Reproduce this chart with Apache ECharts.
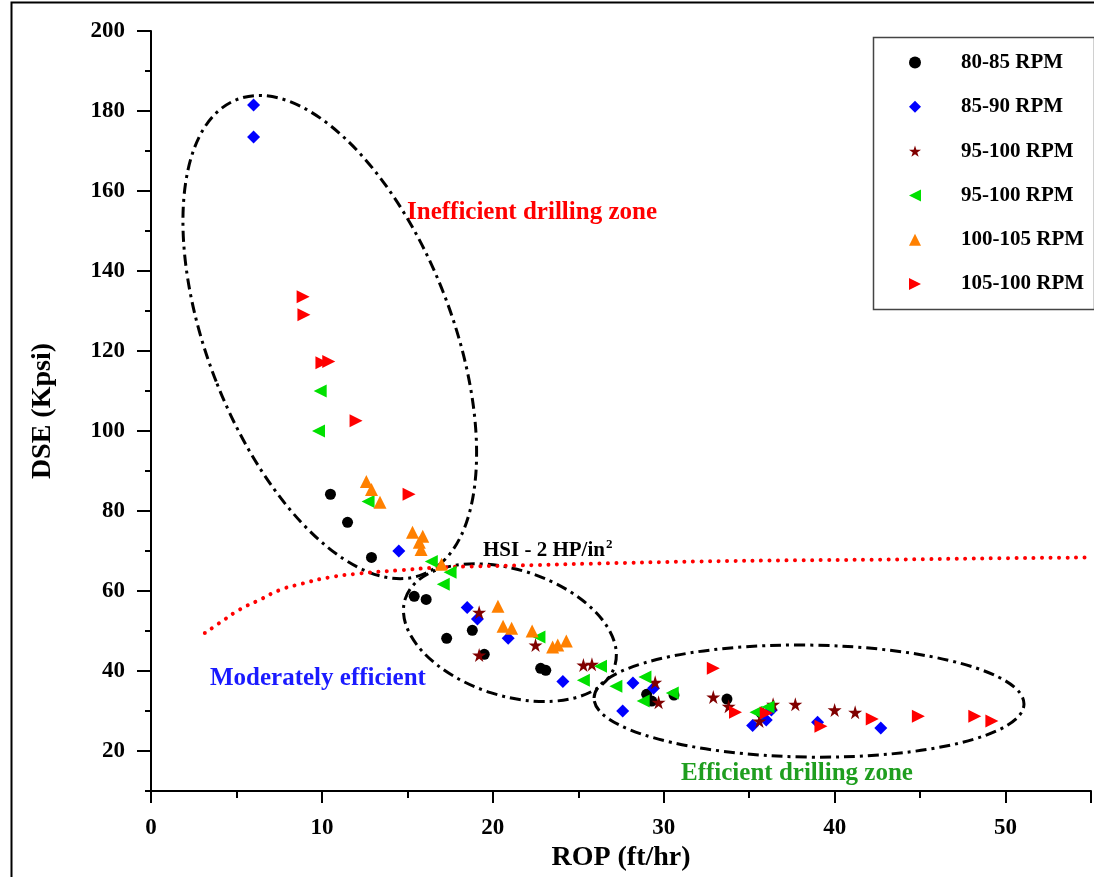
<!DOCTYPE html>
<html>
<head>
<meta charset="utf-8">
<title>DSE vs ROP</title>
<script src="https://cdn.jsdelivr.net/npm/echarts@6/dist/echarts.min.js"></script>
<style>
  html, body { margin: 0; padding: 0; background: #fff; }
  #chart { width: 1094px; height: 877px; }
</style>
</head>
<body>
<div id="chart"></div>
<script>
// ROP (ft/hr), DSE (Kpsi) pairs for each rotary speed band
const rpm80_85 = [
  [10.5, 84.2], [11.5, 77.2], [12.9, 68.4], [15.4, 58.7], [16.1, 57.9],
  [17.3, 48.2], [18.8, 50.2], [19.5, 44.2], [22.8, 40.7], [23.1, 40.2],
  [29.0, 34.2], [29.3, 32.5], [30.6, 34.0], [33.7, 33.0], [35.7, 29.5]
];
const rpm85_90 = [
  [6.0, 181.5], [6.0, 173.5], [14.5, 70.0], [18.5, 55.9], [19.1, 53.0],
  [20.9, 48.2], [24.1, 37.4], [27.6, 30.0], [28.2, 37.0], [29.4, 35.7],
  [35.2, 26.4], [36.0, 27.8], [36.3, 30.3], [39.0, 27.2], [42.7, 25.8]
];
const rpm95_100a = [
  [19.2, 54.7], [19.2, 44.0], [22.5, 46.5], [25.3, 41.5], [25.8, 41.7],
  [29.5, 37.2], [29.7, 32.2], [32.9, 33.5], [33.8, 31.2], [35.6, 27.5],
  [36.4, 31.7], [37.7, 31.7], [40.0, 30.3], [41.2, 29.7]
];
const rpm95_100b = [
  [9.9, 110.0], [9.8, 100.0], [12.7, 82.4], [16.4, 67.4], [17.5, 64.7],
  [17.1, 61.7], [22.7, 48.5], [26.3, 41.2], [25.3, 37.7], [27.2, 36.2],
  [28.9, 38.5], [28.8, 32.5], [30.5, 34.5], [35.4, 29.7], [36.1, 31.0]
];
const rpm100_105 = [
  [12.6, 87.4], [12.9, 85.4], [13.4, 82.2], [15.3, 74.7], [15.9, 73.7],
  [15.7, 72.2], [15.8, 70.4], [17.0, 66.7], [20.3, 56.2], [20.6, 51.2],
  [21.1, 50.7], [22.3, 50.0], [23.5, 46.0], [23.8, 46.5], [24.3, 47.5]
];
const rpm105_100 = [
  [8.9, 133.6], [8.95, 129.1], [10.0, 117.1], [10.4, 117.4], [12.0, 102.6],
  [15.1, 84.2], [32.9, 40.7], [34.2, 29.7], [36.0, 29.5], [39.2, 26.2],
  [42.2, 28.0], [44.9, 28.7], [48.2, 28.7], [49.2, 27.5]
];
// HSI = 2 HP/in² boundary
const hsiROP = [3.15, 4.0, 5.2, 6.4, 7.5, 8.7, 10.4, 12.2, 14.5, 16.9, 19.2, 21.5, 26.2, 32.0, 37.8, 43.7, 49.5, 55.0];
const hsiDSE = [49.5, 52.0, 55.4, 57.9, 60.2, 61.7, 63.4, 64.4, 65.2, 65.9, 66.2, 66.4, 66.9, 67.4, 67.7, 67.9, 68.2, 68.4];

const seriesNames = ['80-85 RPM', '85-90 RPM', '95-100 RPM', '95-100 RPM ', '100-105 RPM', '105-100 RPM'];
const xTicks = [0, 10, 20, 30, 40, 50];
const yTicks = [20, 40, 60, 80, 100, 120, 140, 160, 180, 200];

// drilling-zone outlines: centre in axis units, semi-axes in px, tilt in degrees
const zones = [
  { center: [10.46, 123.5], rx: 122, ry: 255, tilt: 21.4 },
  { center: [21.0, 49.6], rx: 110, ry: 63, tilt: -17.9 },
  { center: [38.5, 32.5], rx: 215, ry: 56, tilt: -0.8 }
];

const SERIF = '"Liberation Serif", "Times New Roman", serif';
const STAR = 'path://M50,0 L61,35 L98,35 L68,57 L79,91 L50,70 L21,91 L32,57 L2,35 L39,35 Z';
const TRI_UP = 'path://M50,0 L100,100 L0,100 Z';
const TRI_LEFT = 'path://M0,50 L100,0 L100,100 Z';
const TRI_RIGHT = 'path://M100,50 L0,0 L0,100 Z';

const chart = echarts.init(document.getElementById('chart'), null, { renderer: 'canvas' });

const scatter = (name, data, symbol, size, color) => ({
  name, type: 'scatter', data, symbol, symbolSize: size,
  itemStyle: { color, opacity: 1 },
  z: 5
});

chart.setOption({
  animation: false,
  backgroundColor: '#fff',
  grid: { left: 151, right: 0, top: 31, bottom: 84, containLabel: false },
  xAxis: [
    {
      type: 'value', min: 0, max: 55, interval: 5,
      name: 'ROP (ft/hr)', nameLocation: 'middle', nameGap: 47,
      nameTextStyle: { fontFamily: SERIF, fontWeight: 'bold', fontSize: 28, color: '#000' },
      axisLine: { lineStyle: { color: '#000', width: 2 } },
      axisTick: { length: 7, lineStyle: { color: '#000', width: 2 } },
      axisLabel: {
        margin: 25, fontFamily: SERIF, fontWeight: 'bold', fontSize: 23, color: '#000',
        formatter: v => (xTicks.indexOf(v) >= 0 ? String(v) : '')
      },
      splitLine: { show: false }
    },
    {
      type: 'value', min: 0, max: 55, interval: 10, position: 'bottom',
      axisLine: { show: false },
      axisTick: { length: 12, lineStyle: { color: '#000', width: 2 } },
      axisLabel: { show: false },
      splitLine: { show: false }
    }
  ],
  yAxis: [
    {
      type: 'value', min: 10, max: 200, interval: 10,
      name: 'DSE (Kpsi)', nameLocation: 'middle', nameGap: 94, nameRotate: 90,
      nameTextStyle: { fontFamily: SERIF, fontWeight: 'bold', fontSize: 28, color: '#000' },
      axisLine: { show: true, lineStyle: { color: '#000', width: 2 } },
      axisTick: { show: true, length: 6, lineStyle: { color: '#000', width: 2 } },
      axisLabel: {
        margin: 26, fontFamily: SERIF, fontWeight: 'bold', fontSize: 23, color: '#000',
        formatter: v => (yTicks.indexOf(v) >= 0 ? String(v) : '')
      },
      splitLine: { show: false }
    },
    {
      type: 'value', min: 10, max: 200, position: 'left',
      axisLine: { show: false },
      axisTick: { show: true, length: 14, customValues: yTicks, lineStyle: { color: '#000', width: 2 } },
      axisLabel: { show: false },
      splitLine: { show: false }
    }
  ],
  legend: {
    orient: 'vertical', left: 909, top: 52, padding: 0,
    itemWidth: 12, itemHeight: 12, itemGap: 23.3,
    data: seriesNames,
    textStyle: {
      fontFamily: SERIF, fontWeight: 'bold', fontSize: 21, color: '#000',
      lineHeight: 12, padding: [0, 0, 0, 35]
    }
  },
  graphic: [
    { type: 'rect', left: 9, top: 0, shape: { width: 1200, height: 1000 },
      style: { fill: 'none', stroke: '#000', lineWidth: 2 }, silent: true, z: 1 },
    { type: 'rect', left: 871, top: 35, shape: { width: 221, height: 272 },
      style: { fill: 'none', stroke: '#444', lineWidth: 1.5 }, silent: true, z: 1 },
    { type: 'text', left: 407, top: 200,
      style: { text: 'Inefficient drilling zone', fill: '#ff0000',
        font: 'bold 25px ' + SERIF } },
    { type: 'text', left: 483, top: 538,
      style: { text: '{m|HSI - 2 HP/in}{s|2}',
        rich: {
          m: { fontFamily: SERIF, fontWeight: 'bold', fontSize: 21, fill: '#000', verticalAlign: 'bottom' },
          s: { fontFamily: SERIF, fontWeight: 'bold', fontSize: 13, fill: '#000', verticalAlign: 'top', padding: [0, 0, 10, 1] }
        } } },
    { type: 'text', left: 210, top: 666,
      style: { text: 'Moderately efficient', fill: '#1a1aff', font: 'bold 25px ' + SERIF } },
    { type: 'text', left: 681, top: 761,
      style: { text: 'Efficient drilling zone', fill: '#1f9e1f', font: 'bold 25px ' + SERIF } }
  ],
  series: [
    {
      type: 'custom', name: 'zones', coordinateSystem: 'cartesian2d', silent: true, z: 3,
      data: zones.map(zn => zn.center),
      renderItem: (params, api) => {
        const zn = zones[params.dataIndex];
        const c = api.coord([api.value(0), api.value(1)]);
        return {
          type: 'ellipse',
          x: c[0], y: c[1],
          rotation: zn.tilt * Math.PI / 180,
          shape: { cx: 0, cy: 0, rx: zn.rx, ry: zn.ry },
          style: { fill: 'none', stroke: '#000', lineWidth: 3, lineDash: [11, 5, 3, 5] }
        };
      }
    },
    {
      type: 'line', name: 'HSI', smooth: true, showSymbol: false, silent: true, z: 4,
      data: hsiROP.map((x, i) => [x, hsiDSE[i]]),
      lineStyle: { color: '#ff0000', width: 4, type: [0.01, 8.5], cap: 'round' }
    },
    scatter(seriesNames[0], rpm80_85, 'circle', 11, '#000000'),
    scatter(seriesNames[1], rpm85_90, 'diamond', 13, '#0000ff'),
    scatter(seriesNames[2], rpm95_100a, STAR, 14, '#800000'),
    scatter(seriesNames[3], rpm95_100b, TRI_LEFT, 13, '#00e000'),
    scatter(seriesNames[4], rpm100_105, TRI_UP, 13, '#ff8000'),
    scatter(seriesNames[5], rpm105_100, TRI_RIGHT, 13, '#ff0000')
  ]
});
</script>
</body>
</html>
